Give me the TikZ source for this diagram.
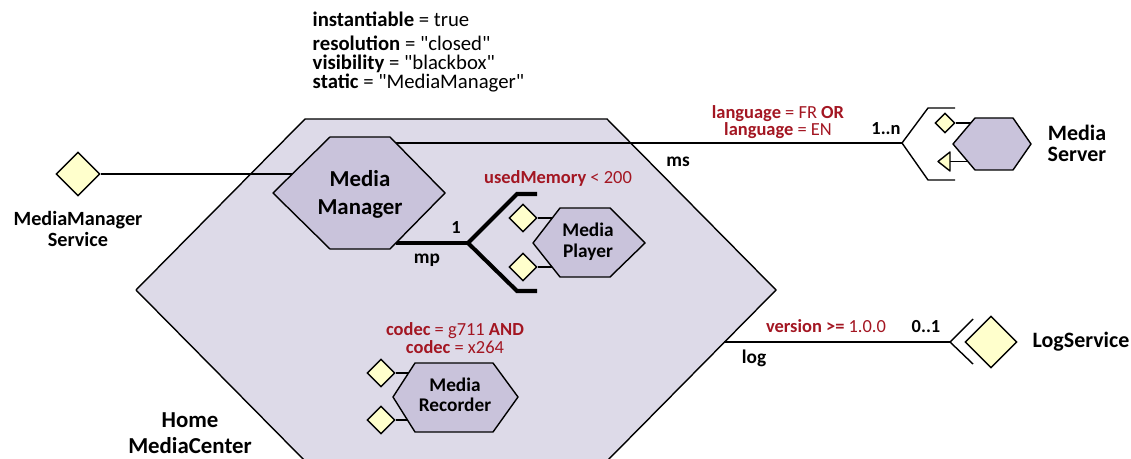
\documentclass[tikz,border=0pt]{standalone}
\usepackage{fontspec}
\setmainfont{Carlito}[Ligatures=TeXOff]
\usetikzlibrary{shapes.geometric}

\definecolor{hexouter}{RGB}{221,218,232}
\definecolor{hexinner}{RGB}{201,195,219}
\definecolor{portfill}{RGB}{255,255,204}
\definecolor{condred}{RGB}{163,22,34}

\tikzset{
  hexa/.style={draw, fill=hexinner, line join=round},
  port/.style={draw, diamond, fill=portfill, inner sep=0pt, minimum size=#1},
  thickwire/.style={line width=2.3pt},
  txt/.style={inner sep=0pt, align=center},
  lbl/.style 2 args={txt, font=\bfseries\fontsize{#1}{#2}\selectfont},
  prop/.style={txt, anchor=base west, font=\fontsize{11.8}{12}\selectfont},
  cond/.style={txt, text=condred, font=\fontsize{10.5}{10}\selectfont},
}

\begin{document}
\begin{tikzpicture}[x=0.02cm, y=-0.02cm, line width=0.8pt]
	\useasboundingbox (0,0) rectangle (1131,459);

	% the composite
	\draw[fill=hexouter, line join=round] (305,119) -- (607,119) -- (776,290) -- (607,461) -- (305,461) -- (136,290) -- cycle;

	% properties
	\node[prop] (instantiable) at (312,27) {\textbf{instantiable} = true};
	\node[prop] (resolution) at (312,51) {\textbf{resolution} = "closed"};
	\node[prop] (visibility) at (312,70) {\textbf{visibility} = "blackbox"};
	\node[prop] (static) at (312,89) {\textbf{static} = "MediaManager"};

	% provided service of the composite
	\node[port=0.88cm] (mmsvc) at (78,174) {};
	\node[lbl={11.5}{12}] (mmsvclabel) at (78,229) {MediaManager\\Service};
	\coordinate (mmin) at (300,174);
	\draw (mmsvc.east) -- (mmin);

	% references
	\coordinate (msout) at (396,143);
	\coordinate (msfork) at (902,143);
	\draw (msout) -- (msfork);
	\draw (msfork) -- ++(26,-35) -- ++(27,0);
	\draw (msfork) -- ++(26,37) -- ++(27,0);

	\coordinate (logout) at (724,342);
	\coordinate (logfork) at (950,342);
	\draw (logout) -- (logfork);
	\draw (logfork) -- ++(23,-23);
	\draw (logfork) -- ++(23,22);

	\coordinate (mpout) at (396,243);
	\coordinate (mpfork) at (468,243);
	\draw[thickwire] (mpout) -- (mpfork);
	\draw[thickwire] (mpfork) -- ++(49,-49) -- ++(20,0);
	\draw[thickwire] (mpfork) -- ++(49,48) -- ++(20,0);

	% Media Manager
	\draw[hexa] (330,137) -- (390,137) -- (445,193) -- (390,249) -- (330,249) -- (273,193) -- cycle;
	\node[lbl={13}{16}] (mm) at (360,194) {Media\\Manager};

	% Media Player
	\coordinate (mpc) at (588,243);
	\node[port=0.56cm] (mpa) at (523,218) {};
	\node[port=0.56cm] (mpb) at (523,267) {};
	\draw (mpa.east) -- (mpa -| mpc);
	\draw (mpb.east) -- (mpb -| mpc);
	\draw[hexa] (560,208) -- (610,208) -- (645,243) -- (610,277) -- (560,277) -- (533,243) -- cycle;
	\node[lbl={11}{12}] (mp) at (588,242) {Media\\Player};

	% Media Recorder
	\coordinate (mrc) at (455,397);
	\node[port=0.56cm] (mra) at (381,373) {};
	\node[port=0.56cm] (mrb) at (381,420) {};
	\draw (mra.east) -- (mra -| mrc);
	\draw (mrb.east) -- (mrb -| mrc);
	\draw[hexa] (415,363) -- (493,363) -- (518,397) -- (493,432) -- (415,432) -- (393,397) -- cycle;
	\node[lbl={11}{11.5}] (mr) at (455,395) {Media\\Recorder};

	% Media Server
	\coordinate (msc) at (992,144);
	\node[port=0.4cm] (msprov) at (945,123) {};
	\coordinate (msreq) at (950,161.5);
	\draw (msprov.east) -- (msprov -| msc);
	\draw (msreq) -- (msreq -| msc);
	\draw[fill=portfill, line join=round] (msreq) ++(0,-9.5) -- ++(-12,9.5) -- ++(12,9.5) -- cycle;
	\draw[hexa] (975,118) -- (1013,118) -- (1031,144) -- (1013,170) -- (975,170) -- (953,144) -- cycle;
	\node[lbl={12.5}{12}, anchor=west] (ms) at (1047,143) {Media\\Server};

	% Log service
	\node[port=1.04cm] (logsvc) at (991,342) {};
	\node[lbl={12.5}{12}, anchor=base west] (logname) at (1032,347) {LogService};

	% composite name
	\node[lbl={13}{14.8}] (hmc) at (190,433) {Home\\MediaCenter};

	% reference names and multiplicities
	\node[lbl={11}{12}, anchor=base] (msname) at (678,167) {ms};
	\node[lbl={11}{12}, anchor=base] (mpname) at (427,263) {mp};
	\node[lbl={11}{12}, anchor=base] (logname2) at (754,363) {log};
	\node[lbl={10.5}{12}, anchor=base] (mpmult) at (456,233) {1};
	\node[lbl={10.5}{12}, anchor=base] (msmult) at (886,135) {1..n};
	\node[lbl={10.5}{12}, anchor=base] (logmult) at (926,332) {0..1};

	% constraints
	\node[cond] (mscond) at (778,122) {\textbf{language} = FR \textbf{OR}\\\textbf{language} = EN};
	\node[cond, anchor=base] (mpcond) at (558,183) {\textbf{usedMemory} < 200};
	\node[cond] (mrcond) at (455,338) {\textbf{codec} = g711 \textbf{AND}\\\textbf{codec} = x264};
	\node[cond, anchor=base] (logcond) at (826,332) {\textbf{version >=} 1.0.0};
\end{tikzpicture}
\end{document}
